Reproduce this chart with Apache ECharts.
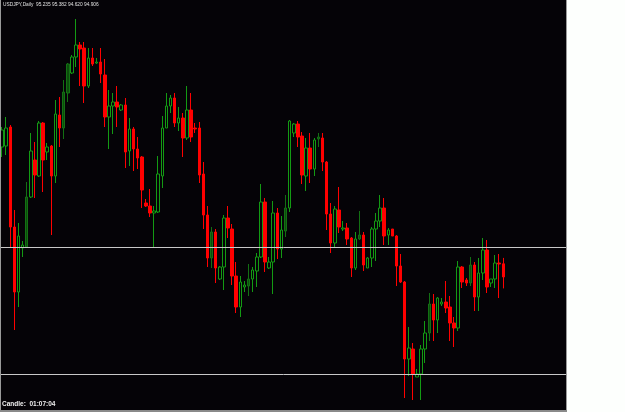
<!DOCTYPE html>
<html>
<head>
<meta charset="utf-8">
<title>USDJPY Daily</title>
<script src="https://cdn.jsdelivr.net/npm/echarts@6/dist/echarts.min.js"></script>
<style>
  html, body { margin: 0; padding: 0; background: #fdfffd; }
  #main { width: 625px; height: 412px; }
</style>
</head>
<body>
<div id="main"></div>
<script>
// daily candles, oldest first
var opens = [98.155,98.18,98.655,96.155,94.53,95.63,95.655,96.905,97.83,97.43,
  98.755,98.03,98.18,97.43,98.955,98.63,99.505,100.005,100.405,100.705,
  100.63,99.68,100.38,100.255,100.28,99.955,98.905,99.18,99.28,99.08,
  99.205,98.055,98.605,98.105,97.905,96.755,96.68,96.505,96.53,97.43,
  98.63,99.18,99.38,98.755,98.88,98.38,99.08,98.63,98.63,97.48,
  96.455,95.38,96.03,94.855,95.155,96.38,96.105,94.93,94.155,94.655,
  94.68,94.855,95.055,95.405,96.78,95.13,95.28,96.505,95.605,96.055,
  96.63,98.505,98.73,98.43,97.43,98.13,97.605,98.355,98.38,97.78,
  96.48,95.755,96.58,96.105,96.13,95.88,95.13,95.855,95.955,95.13,
  95.38,96.105,96.305,96.63,95.955,96.105,95.93,95.18,94.78,92.855,
  93.105,92.405,92.48,93.105,93.505,94.23,93.83,94.23,94.28,94.155,
  93.755,93.63,95.155,94.83,94.755,95.205,94.405,95.005,95.58,94.755,
  94.855,95.255,95.235];

var closes = [98.58,98.63,96.155,94.53,95.93,95.705,96.905,98.055,97.455,98.755,
  97.83,98.155,97.43,98.98,98.63,99.53,100.23,100.405,100.705,100.605,
  99.68,100.38,100.23,100.28,99.98,98.905,99.18,99.28,99.155,99.205,
  98.03,98.605,98.105,97.88,97.08,96.68,96.505,96.555,97.48,98.63,
  99.18,99.38,98.755,98.88,98.38,99.08,98.405,98.605,97.455,96.455,
  95.38,96.03,95.13,95.155,96.38,96.13,94.93,94.155,94.78,94.705,
  94.855,95.08,95.405,96.78,95.28,95.28,96.505,95.605,96.08,96.63,
  98.805,98.73,98.405,97.455,98.13,97.605,98.33,98.405,97.78,96.48,
  95.755,96.605,96.155,96.13,95.855,95.13,95.855,95.955,95.205,95.38,
  96.105,96.305,96.63,95.93,96.08,95.93,95.18,94.78,92.855,93.13,
  92.48,92.48,93.105,93.505,94.23,93.83,94.38,94.28,94.13,93.755,
  93.63,95.155,94.78,94.755,95.205,94.405,95.005,95.58,94.655,94.855,
  95.255,95.23,94.906];

var lows = [97.905,97.955,95.655,93.58,94.155,95.405,95.63,96.88,96.88,97.405,
  97.03,97.83,95.955,97.255,98.155,98.355,99.28,99.98,100.155,99.68,
  99.255,99.63,100.18,100.23,99.755,98.655,98.105,98.48,98.655,99.055,
  97.63,97.68,97.555,97.605,96.63,96.655,96.405,95.63,96.505,97.13,
  98.63,99.005,98.655,98.555,97.905,98.33,98.28,98.505,97.255,96.105,
  95.155,95.13,94.755,94.83,94.58,95.88,94.705,94.005,93.905,94.53,
  94.43,94.53,94.655,95.38,95.03,95.105,94.48,95.355,95.38,95.905,
  96.53,98.405,98.155,97.23,97.055,97.255,97.43,98.155,97.555,96.08,
  95.505,95.655,96.005,96.055,95.705,94.905,95.08,95.83,95.055,95.13,
  95.155,95.305,96.155,95.705,95.705,95.93,94.68,94.755,91.88,92.43,
  91.83,92.405,91.83,92.755,93.305,93.305,93.505,94.18,94.005,93.305,
  93.155,93.555,94.63,94.68,94.68,94.055,94.055,94.83,94.505,94.655,
  94.63,94.38,94.62];

var highs = [98.655,98.905,98.705,96.58,96.255,95.805,97.28,98.505,98.28,98.805,
  98.78,98.255,98.205,99.33,99.405,99.83,100.255,100.455,101.355,100.78,
  100.78,100.63,100.63,100.38,100.63,100.355,99.58,99.505,99.68,99.23,
  99.38,98.88,98.655,98.405,97.93,96.855,97.105,96.68,97.93,98.93,
  99.505,99.455,99.505,99.155,99.005,99.68,99.505,98.755,98.78,97.78,
  96.68,96.155,96.105,95.18,96.455,96.68,96.23,95.28,94.93,94.805,
  95.23,95.155,95.505,97.23,96.88,95.405,96.805,96.63,96.43,96.955,
  98.83,98.755,98.805,98.53,98.38,98.505,98.38,98.505,98.505,97.805,
  96.755,96.68,97.155,96.305,96.255,95.905,96.03,96.555,96.03,95.405,
  96.155,96.505,96.955,96.88,96.13,96.105,95.955,95.48,94.805,93.655,
  93.255,92.605,93.205,93.805,94.505,94.48,94.405,94.38,94.805,94.43,
  93.905,95.305,95.18,94.88,95.405,95.28,95.38,95.88,95.83,94.855,
  95.455,95.48,95.382];

// candles drawn in the dim (shadow) colour
var dimCandles = [6,15,16,51,60,69,77,87,104,114];

// horizontal lines drawn on the chart
var levels = [95.65, 92.47];

var headerText = 'USDJPY,Daily  95.235 95.382 94.620 94.906';
var footerText = 'Candle:  01:07:04';

// 138 slots on the x axis, the last ones are empty space on the right
var days = [];
for (var d = 0; d < 138; d++) { days.push(String(d + 1)); }

var candles = opens.map(function (o, i) {
  var item = { value: [o, closes[i], lows[i], highs[i]] };
  if (dimCandles.indexOf(i) >= 0) {
    item.itemStyle = { color: '#0c4c0c', borderColor: '#137013', color0: '#7a0000', borderColor0: '#800000' };
  }
  return item;
});

var chart = echarts.init(document.getElementById('main'), null, { renderer: 'canvas' });

var option = {
  animation: false,
  backgroundColor: '#fdfffd',
  grid: { left: -1, top: 0, width: 568, height: 410 },
  xAxis: {
    type: 'category',
    data: days,
    boundaryGap: true,
    show: false
  },
  yAxis: {
    type: 'value',
    min: 91.58,
    max: 101.83,
    show: false,
    splitLine: { show: false }
  },
  graphic: [
    { type: 'rect', z: -10, shape: { x: 0, y: 0, width: 566, height: 410 }, style: { fill: '#050307' } },
    { type: 'line', z: 10, shape: { x1: 0.5, y1: 0, x2: 0.5, y2: 410 }, style: { stroke: '#9a9a9a', lineWidth: 1 } },
    { type: 'line', z: 10, shape: { x1: 566.5, y1: 0, x2: 566.5, y2: 412 }, style: { stroke: '#9a9a9a', lineWidth: 1 } },
    { type: 'rect', z: 10, shape: { x: 0, y: 410, width: 567, height: 2 }, style: { fill: '#8a8a8a' } },
    {
      type: 'text', z: 20, left: 3, top: 2,
      style: { text: headerText, fill: '#e0e0e0', font: '4.8px "Liberation Sans"' }
    },
    {
      type: 'text', z: 20, left: 2, top: 401,
      style: { text: footerText, fill: '#f0f0f0', font: 'bold 6.5px "Liberation Sans"' }
    }
  ],
  series: [{
    type: 'candlestick',
    data: candles,
    barWidth: 3,
    itemStyle: {
      color: '#050307',
      color0: '#ff0000',
      borderColor: '#139a13',
      borderColor0: '#ff0000',
      borderWidth: 1
    },
    markLine: {
      silent: true,
      symbol: 'none',
      label: { show: false },
      lineStyle: { color: '#c8c8c8', width: 1, type: 'solid' },
      data: levels.map(function (v) { return { yAxis: v }; })
    }
  }]
};

chart.setOption(option);
</script>
</body>
</html>
